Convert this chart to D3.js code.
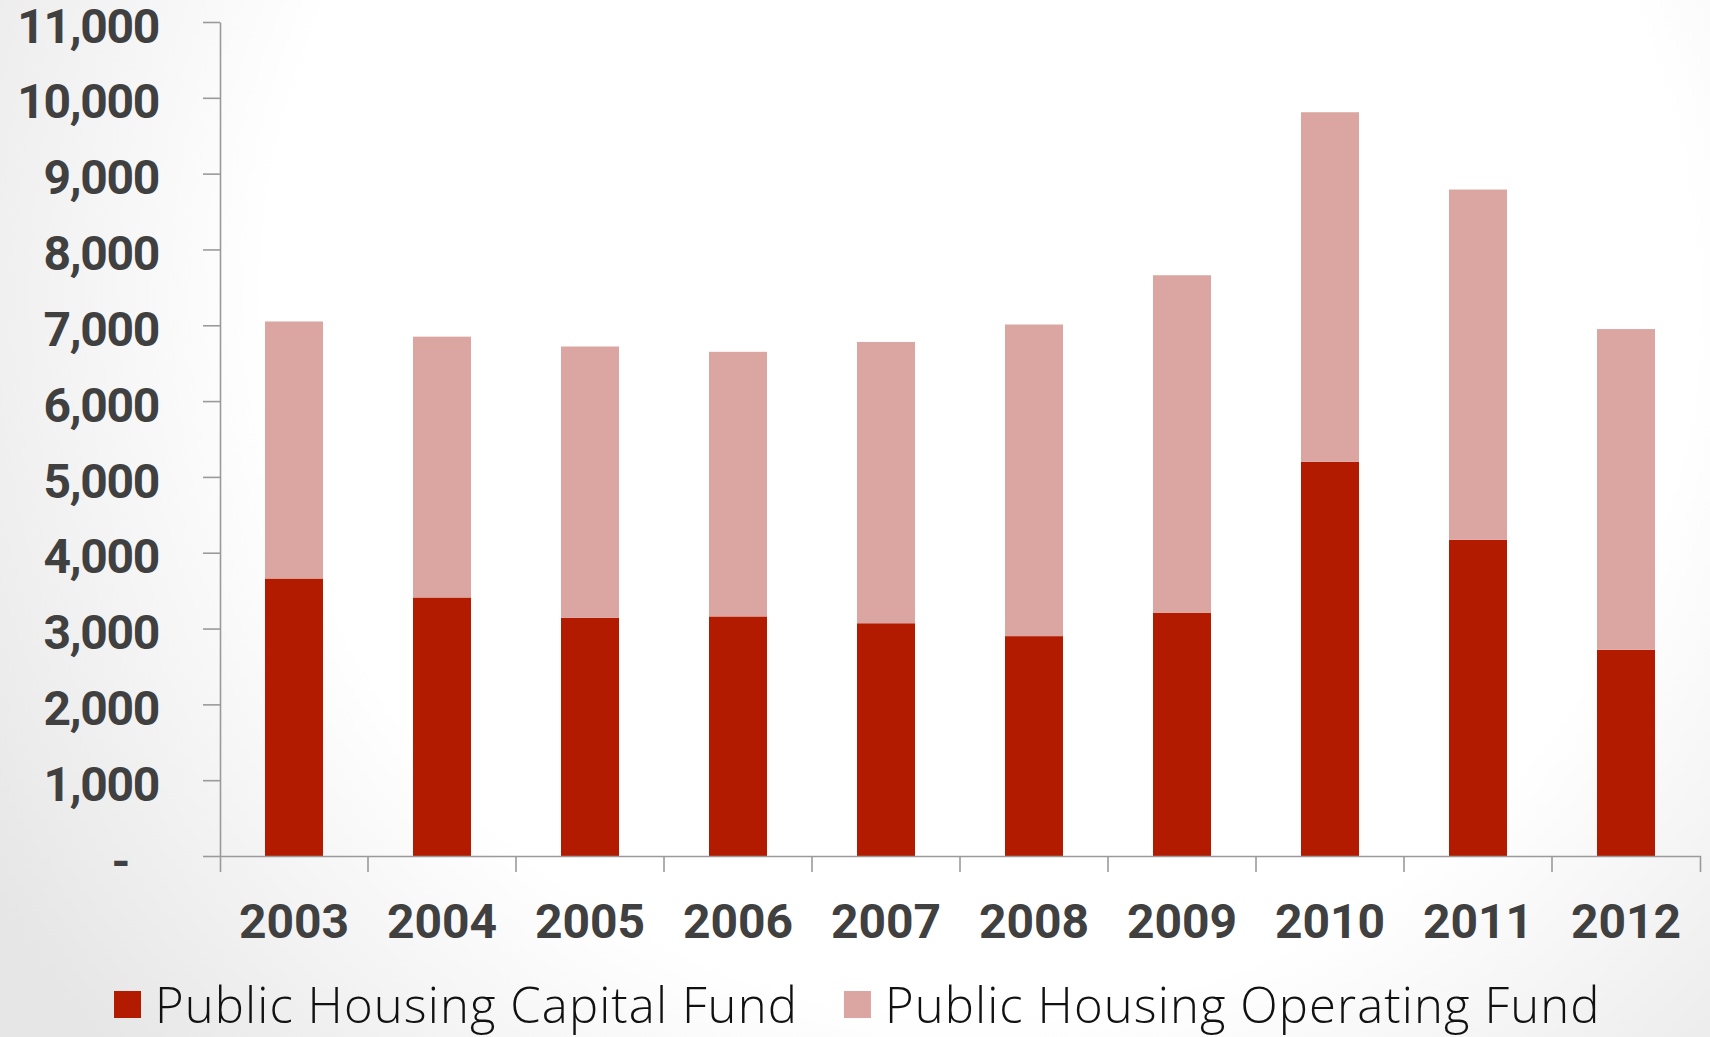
<!DOCTYPE html>
<html>
<head>
<meta charset="utf-8">
<script src="https://cdn.jsdelivr.net/npm/d3@7"></script>
<style>
	body { margin: 0; overflow: hidden; }
	.axis path, .axis line { stroke: #9a9a9a; stroke-width: 1.6; }
	.axis text { font-family: Roboto, 'Open Sans', sans-serif; font-weight: bold; font-size: 48px; fill: #404040; }
	.y-axis text { letter-spacing: -1.3px; }
	.legend text { font-family: 'Open Sans', sans-serif; font-weight: 300; font-size: 49px; letter-spacing: 1.1px; fill: #111; }
</style>
</head>
<body>
<div id="chart"></div>
<script>
// Values (stacked: capital at the bottom, operating on top)
let years = ['2003', '2004', '2005', '2006', '2007', '2008', '2009', '2010', '2011', '2012'];
let capitalFund = [3660, 3410, 3140, 3160, 3070, 2900, 3210, 5200, 4170, 2720];
let operatingFund = [3390, 3440, 3580, 3490, 3710, 4110, 4450, 4610, 4620, 4230];
let yTicks = [0, 1000, 2000, 3000, 4000, 5000, 6000, 7000, 8000, 9000, 10000, 11000];
let seriesNames = ['Public Housing Capital Fund', 'Public Housing Operating Fund'];
let seriesColors = ['#b31b00', '#dba6a2'];

let width = 1710;
let height = 1037;
let plotLeft = 220, plotRight = 1700, plotTop = 22, plotBottom = 856;

let svg = d3.select('#chart').append('svg')
		.attr('width', width)
		.attr('height', height);

// Soft grey vignette, mostly on the left and lower-left
let grad = svg.append('defs').append('radialGradient')
		.attr('id', 'bg')
		.attr('gradientUnits', 'userSpaceOnUse')
		.attr('cx', 980).attr('cy', 300).attr('r', 1150);
grad.append('stop').attr('offset', 0).attr('stop-color', '#ffffff');
grad.append('stop').attr('offset', 0.62).attr('stop-color', '#ffffff');
grad.append('stop').attr('offset', 1).attr('stop-color', '#e6e6e6');
svg.append('rect').attr('width', width).attr('height', height).attr('fill', 'url(#bg)');

let data = years.map((y, i) => ({year: y, capital: capitalFund[i], operating: operatingFund[i]}));
let stacked = d3.stack().keys(['capital', 'operating'])(data);

let xScale = d3.scaleBand()
		.domain(years)
		.range([plotLeft, plotRight])
		.paddingInner(0.608)
		.paddingOuter(0.304);

let yScale = d3.scaleLinear()
		.domain([0, 11000])
		.range([plotBottom, plotTop]);

// Bars
svg.append('g').selectAll('g').data(stacked).enter().append('g')
		.attr('fill', (d, i) => seriesColors[i])
		.selectAll('rect').data(d => d).enter().append('rect')
		.attr('x', d => xScale(d.data.year))
		.attr('width', xScale.bandwidth())
		.attr('y', d => yScale(d[1]))
		.attr('height', d => yScale(d[0]) - yScale(d[1]));

// Y axis
let yAxis = svg.append('g')
		.attr('class', 'axis y-axis')
		.attr('transform', `translate(${plotLeft}, 0)`)
		.call(d3.axisLeft(yScale)
				.tickValues(yTicks)
				.tickSize(17)
				.tickSizeOuter(0)
				.tickPadding(44)
				.tickFormat(d => d === 0 ? '-' : d3.format(',')(d)));
yAxis.selectAll('.tick text').attr('dy', '0.42em');
yAxis.selectAll('.tick text').filter(d => d === 0).attr('dx', -30).attr('dy', '0.45em');

// X axis: labels centred on bars, ticks at the category borders
let xAxis = svg.append('g')
		.attr('class', 'axis')
		.attr('transform', `translate(0, ${plotBottom})`)
		.call(d3.axisBottom(xScale)
				.tickSize(0)
				.tickSizeOuter(16)
				.tickPadding(48));

let gap = (xScale.step() - xScale.bandwidth()) / 2;
xAxis.selectAll('.border').data(years.slice(1)).enter().append('line')
		.attr('class', 'border')
		.attr('x1', d => xScale(d) - gap)
		.attr('x2', d => xScale(d) - gap)
		.attr('y1', 0)
		.attr('y2', 16);

// Legend
let legend = svg.append('g').attr('class', 'legend');
let lx = 114;
seriesNames.forEach((name, i) => {
	legend.append('rect')
			.attr('x', lx).attr('y', 991)
			.attr('width', 27).attr('height', 27)
			.attr('fill', seriesColors[i]);
	let t = legend.append('text')
			.attr('x', lx + 41).attr('y', 1023)
			.text(name);
	lx += 41 + t.node().getComputedTextLength() + 46;
});
</script>
</body>
</html>
